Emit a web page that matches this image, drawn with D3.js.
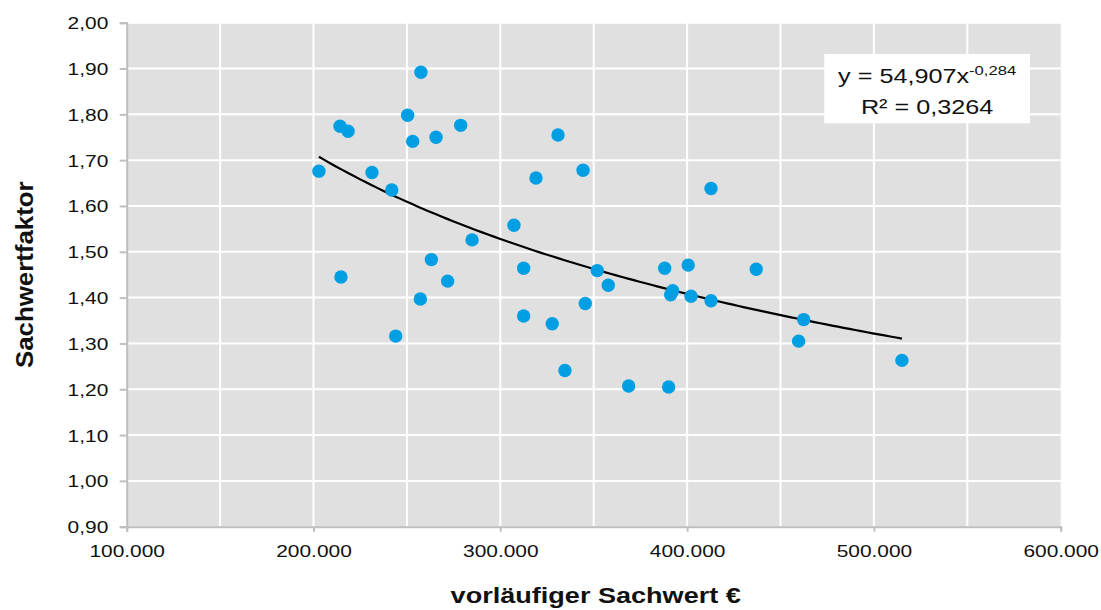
<!DOCTYPE html>
<html>
<head>
<meta charset="utf-8">
<script src="https://cdn.jsdelivr.net/npm/d3@7"></script>
<style>
  html, body { margin: 0; padding: 0; background: #fff; }
  svg { display: block; font-family: "Liberation Sans", Arial, sans-serif; }
</style>
</head>
<body>
<svg id="chart" width="1101" height="610"></svg>
<script>
// Vorläufiger Sachwert (€) and the corresponding Sachwertfaktor per sale
const sachwert = [
  202900, 214200, 218500, 214700, 231300, 241900, 244000, 250400, 253100, 257500,
  257200, 263100, 265600, 271800, 278800, 284900, 307300, 312500, 312500, 319100,
  327800, 330900, 334600, 344300, 345500, 351900, 357800, 368700, 388000, 390100,
  392300, 391200, 400600, 402100, 412800, 412800, 437000, 459700, 462400, 515000
];
const faktor = [
  1.676, 1.774, 1.763, 1.445, 1.673, 1.635, 1.316, 1.798, 1.741, 1.892,
  1.397, 1.483, 1.750, 1.436, 1.776, 1.526, 1.558, 1.464, 1.360, 1.661,
  1.343, 1.755, 1.241, 1.678, 1.387, 1.459, 1.427, 1.207, 1.464, 1.205,
  1.415, 1.406, 1.471, 1.403, 1.638, 1.393, 1.462, 1.305, 1.352, 1.263
];

// Potenz-Trendlinie y = a · x^b, as stated in the equation box
const trendA = 54.907;
const trendB = -0.284;
const rSquared = 0.3264;

const xTickValues = [100000, 200000, 300000, 400000, 500000, 600000];
const xGridValues = [150000, 200000, 250000, 300000, 350000, 400000, 450000, 500000, 550000];
const yTickValues = [0.9, 1.0, 1.1, 1.2, 1.3, 1.4, 1.5, 1.6, 1.7, 1.8, 1.9, 2.0];

const xTitle = "vorläufiger Sachwert €";
const yTitle = "Sachwertfaktor";

const W = 1101, H = 610;
const margin = { top: 22.7, right: 40.3, bottom: 83.3, left: 126.7 };
const iw = W - margin.left - margin.right;
const ih = H - margin.top - margin.bottom;
const stretch = 1.23;          // wide text rendering of the chart typography

const de = d3.formatLocale({ decimal: ",", thousands: ".", grouping: [3], currency: ["", " €"], minus: "-" });
const fmtY = de.format(".2f");
const fmtX = de.format(",.0f");
const fmt3 = de.format(".3f");
const fmt4 = de.format(".4f");

const svg = d3.select("#chart");
const g = svg.append("g").attr("transform", `translate(${margin.left},${margin.top})`);

const x = d3.scaleLinear().domain([100000, 600000]).range([0, iw]);
const y = d3.scaleLinear().domain([0.9, 2.0]).range([ih, 0]);

// plot area
g.append("rect").attr("width", iw).attr("height", ih).attr("fill", "#e0e0e0");

// grid
g.append("g").selectAll("line").data(yTickValues.slice(1)).join("line")
  .attr("x1", 0).attr("x2", iw)
  .attr("y1", d => y(d)).attr("y2", d => y(d))
  .attr("stroke", "#ffffff").attr("stroke-width", 2);
g.append("g").selectAll("line").data(xGridValues).join("line")
  .attr("x1", d => x(d)).attr("x2", d => x(d))
  .attr("y1", 0).attr("y2", ih)
  .attr("stroke", "#ffffff").attr("stroke-width", 2);

// axes
const yAxis = g.append("g")
  .call(d3.axisLeft(y).tickValues(yTickValues).tickFormat(fmtY).tickSize(7).tickPadding(0));
const xAxis = g.append("g").attr("transform", `translate(0,${ih})`)
  .call(d3.axisBottom(x).tickValues(xTickValues).tickFormat(fmtX).tickSize(5).tickPadding(0));

[yAxis, xAxis].forEach(ax => {
  ax.select(".domain").attr("stroke", "#bfbfbf").attr("stroke-width", 2);
  ax.selectAll(".tick line").attr("stroke", "#bfbfbf").attr("stroke-width", 2);
  ax.selectAll(".tick text")
    .attr("fill", "#111").attr("font-size", 17)
    .attr("font-family", "'Liberation Sans', Arial, sans-serif");
});
yAxis.selectAll(".tick text")
  .attr("x", -18.4 / stretch).attr("dy", "0.35em")
  .attr("transform", `scale(${stretch},1)`);
xAxis.selectAll(".tick text")
  .attr("y", 30.5).attr("dy", 0)
  .attr("transform", `scale(${stretch},1)`);

// trend line
const trendX = d3.range(0, 101).map(i => d3.min(sachwert) + (d3.max(sachwert) - d3.min(sachwert)) * i / 100);
const line = d3.line().x(d => x(d)).y(d => y(trendA * Math.pow(d, trendB)));
g.append("path").datum(trendX)
  .attr("d", line)
  .attr("fill", "none").attr("stroke", "#000").attr("stroke-width", 2.2);

// points
g.append("g").selectAll("circle").data(sachwert.map((v, i) => [v, faktor[i]])).join("circle")
  .attr("cx", d => x(d[0])).attr("cy", d => y(d[1]))
  .attr("r", 6.7).attr("fill", "#009fe3");

// equation box
const box = g.append("g").attr("transform", `translate(${824.3 - margin.left},${54 - margin.top})`);
box.append("rect").attr("width", 205.7).attr("height", 69.3).attr("fill", "#ffffff");
const eq = box.append("text")
  .attr("transform", `translate(102.8,29.3) scale(${stretch},1)`)
  .attr("text-anchor", "middle").attr("font-size", 20.5).attr("fill", "#111");
eq.append("tspan").text(`y = ${fmt3(trendA)}x`);
eq.append("tspan").attr("font-size", 13.5).attr("dy", -8).text(fmt3(trendB));
box.append("text")
  .attr("transform", `translate(102.8,60) scale(${stretch},1)`)
  .attr("text-anchor", "middle").attr("font-size", 20.5).attr("fill", "#111")
  .text(`R² = ${fmt4(rSquared)}`);

// axis titles
svg.append("text")
  .attr("transform", `translate(${margin.left + iw / 2 + 2},603) scale(${stretch},1)`)
  .attr("text-anchor", "middle").attr("font-weight", "bold").attr("font-size", 22).attr("fill", "#111")
  .text(xTitle);
svg.append("text")
  .attr("transform", `translate(32.5,${margin.top + ih / 2}) rotate(-90) scale(1.1,1)`)
  .attr("text-anchor", "middle").attr("font-weight", "bold").attr("font-size", 23.5).attr("fill", "#111")
  .text(yTitle);
</script>
</body>
</html>
